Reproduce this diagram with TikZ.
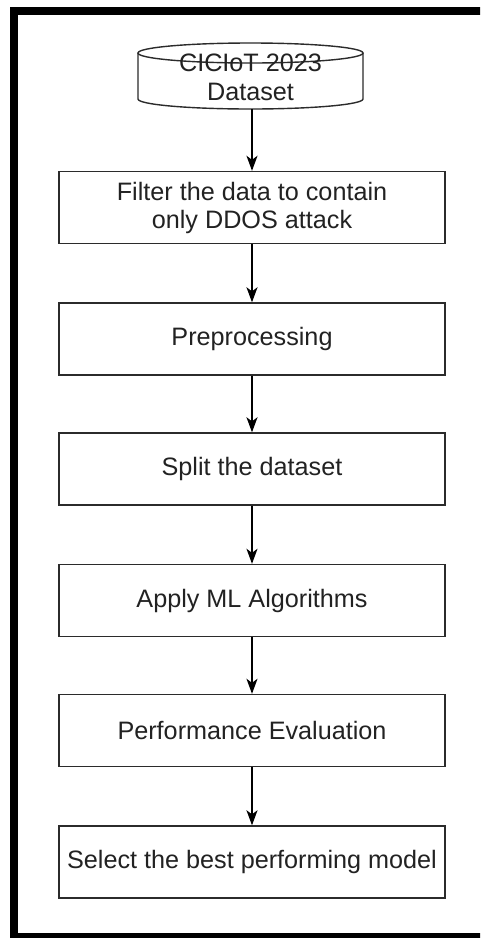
\documentclass[tikz,border=0pt]{standalone}
\usepackage{fontspec}
\setmainfont{Liberation Sans}
\usetikzlibrary{arrows.meta}
\definecolor{edge}{HTML}{2B2B2B}
\definecolor{txt}{HTML}{222222}
\tikzset{
  stepbox/.style={draw=edge, line width=1.4pt, fill=white, minimum width=386pt, minimum height=72pt,
    inner sep=0pt, align=center, text=txt, font=\fontsize{25.2}{28}\selectfont},
  flow/.style={draw=black, line width=1.5pt, -{Stealth[length=15pt,width=11pt,inset=4pt]}},
  dbtext/.style={text=txt, font=\fontsize{25.2}{28}\selectfont, inner sep=0pt}
}
\begin{document}
\begin{tikzpicture}[x=1pt,y=-1pt]
\useasboundingbox (0,0) rectangle (480,938);
\fill[white] (0,0) rectangle (480,938);
\begin{scope}
\clip (0,0) rectangle (480,938);
\draw[line width=8pt] (13.5,11) rectangle (490,937);
\end{scope}
% cylinder
\draw[edge, line width=1.4pt, fill=white] (138,53) -- (138,99) arc[start angle=180, end angle=0, x radius=112.5, y radius=10] -- (363,53);
\draw[edge, line width=1.4pt, fill=white] (250.5,53) ellipse [x radius=112.5, y radius=10];
\node[minimum width=225pt, minimum height=66pt, inner sep=0pt] (db) at (250.5,76) {};
\node[dbtext] (dbA) at (250.5,63) {CICIoT 2023};
\node[dbtext] (dbB) at (250.5,92) {Dataset};
% boxes
\node[stepbox] (b1) at (252,207.5) {Filter the data to contain\\only DDOS attack};
\node[stepbox] (b2) at (252,339) {Preprocessing};
\node[stepbox] (b3) at (252,469) {Split the dataset};
\node[stepbox] (b4) at (252,600.5) {Apply ML Algorithms};
\node[stepbox] (b5) at (252,730.5) {Performance Evaluation};
\node[stepbox] (b6) at (252,862) {Select the best performing model};
% arrows
\draw[flow] (db.south -| b1.north) -- (b1.north);
\draw[flow] (b1) -- (b2);
\draw[flow] (b2) -- (b3);
\draw[flow] (b3) -- (b4);
\draw[flow] (b4) -- (b5);
\draw[flow] (b5) -- (b6);
\end{tikzpicture}
\end{document}
